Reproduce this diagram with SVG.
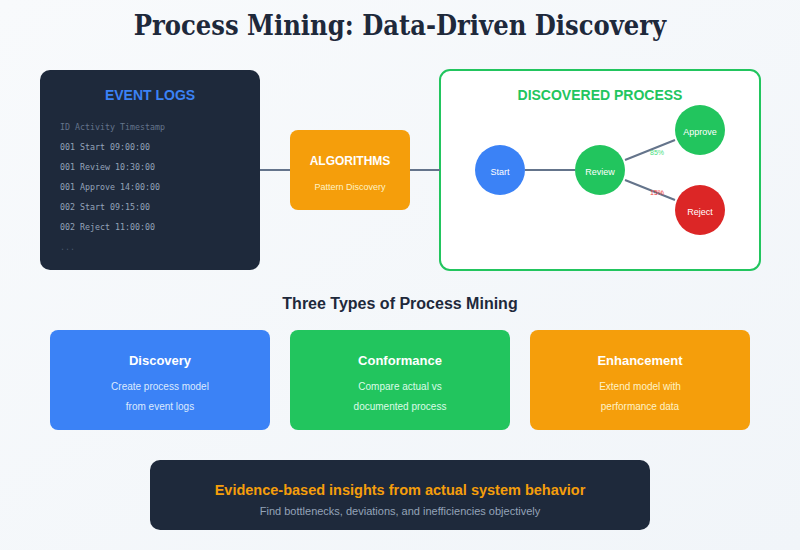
<svg xmlns="http://www.w3.org/2000/svg" width="800" height="550" viewBox="0 0 800 550">
<defs>
<linearGradient id="bg" x1="0" y1="0" x2="1" y2="1">
<stop offset="0" stop-color="#f8fafc"/>
<stop offset="1" stop-color="#f1f5f9"/>
</linearGradient>
<style>
.sans{font-family:"Liberation Sans",Arial,sans-serif}
.mono{font-family:"DejaVu Sans Mono","Liberation Mono",monospace;font-size:8.3px}
.conn{stroke:#64748b;stroke-width:2;fill:none}
.ctitle{font-family:"Liberation Sans",Arial,sans-serif;font-size:13px;font-weight:bold;fill:#ffffff;text-anchor:middle}
.cdesc{font-family:"Liberation Sans",Arial,sans-serif;font-size:10px;text-anchor:middle}
.ntext{font-family:"Liberation Sans",Arial,sans-serif;font-size:9px;fill:#ffffff;text-anchor:middle}
</style>
</defs>
<rect width="800" height="550" fill="url(#bg)"/>
<text x="400" y="35" text-anchor="middle" font-family="DejaVu Serif,serif" font-stretch="condensed" font-weight="bold" font-size="27" fill="#1e293b">Process Mining: Data-Driven Discovery</text>

<g id="event-logs">
<rect x="40" y="70" width="220" height="200" rx="10" fill="#1e293b"/>
<text x="150" y="100" text-anchor="middle" class="sans" font-size="14" font-weight="bold" fill="#3b82f6">EVENT LOGS</text>
<text x="60" y="130" class="mono" fill="#64748b">ID Activity Timestamp</text>
<text x="60" y="150" class="mono" fill="#94a3b8">001 Start 09:00:00</text>
<text x="60" y="170" class="mono" fill="#94a3b8">001 Review 10:30:00</text>
<text x="60" y="190" class="mono" fill="#94a3b8">001 Approve 14:00:00</text>
<text x="60" y="210" class="mono" fill="#94a3b8">002 Start 09:15:00</text>
<text x="60" y="230" class="mono" fill="#94a3b8">002 Reject 11:00:00</text>
<text x="60" y="250" class="mono" fill="#475569">...</text>
</g>

<g id="algorithms">
<rect x="290" y="130" width="120" height="80" rx="8" fill="#f59e0b"/>
<text x="350" y="165" text-anchor="middle" class="sans" font-size="12" font-weight="bold" fill="#ffffff">ALGORITHMS</text>
<text x="350" y="190" text-anchor="middle" class="sans" font-size="9" fill="#fef3c7">Pattern Discovery</text>
</g>

<g id="discovered-process">
<rect x="440" y="70" width="320" height="200" rx="10" fill="#ffffff" stroke="#22c55e" stroke-width="2"/>
<text x="600" y="100" text-anchor="middle" class="sans" font-size="14" font-weight="bold" fill="#22c55e">DISCOVERED PROCESS</text>
</g>

<g id="connectors">
<line class="conn" x1="260" y1="170" x2="290" y2="170"/>
<line class="conn" x1="410" y1="170" x2="440" y2="170"/>
<line class="conn" x1="525" y1="170" x2="575" y2="170"/>
<line class="conn" x1="625" y1="160" x2="675" y2="140"/>
<line class="conn" x1="625" y1="180" x2="675" y2="200"/>
<text x="657" y="155" text-anchor="middle" class="sans" font-size="7" fill="#4ade80">85%</text>
<text x="657" y="195" text-anchor="middle" class="sans" font-size="7" fill="#ef4444">15%</text>
</g>

<g id="node-start">
<circle cx="500" cy="170" r="25" fill="#3b82f6"/>
<text x="500" y="175" class="ntext">Start</text>
</g>
<g id="node-review">
<circle cx="600" cy="170" r="25" fill="#22c55e"/>
<text x="600" y="175" class="ntext">Review</text>
</g>
<g id="node-approve">
<circle cx="700" cy="130" r="25" fill="#22c55e"/>
<text x="700" y="135" class="ntext">Approve</text>
</g>
<g id="node-reject">
<circle cx="700" cy="210" r="25" fill="#dc2626"/>
<text x="700" y="215" class="ntext">Reject</text>
</g>

<text x="400" y="309" text-anchor="middle" class="sans" font-size="16" font-weight="bold" fill="#1e293b">Three Types of Process Mining</text>

<g id="card-discovery">
<rect x="50" y="330" width="220" height="100" rx="8" fill="#3b82f6"/>
<text x="160" y="365" class="ctitle">Discovery</text>
<text x="160" y="390" class="cdesc" fill="#dbeafe">Create process model</text>
<text x="160" y="410" class="cdesc" fill="#dbeafe">from event logs</text>
</g>
<g id="card-conformance">
<rect x="290" y="330" width="220" height="100" rx="8" fill="#22c55e"/>
<text x="400" y="365" class="ctitle">Conformance</text>
<text x="400" y="390" class="cdesc" fill="#dcfce7">Compare actual vs</text>
<text x="400" y="410" class="cdesc" fill="#dcfce7">documented process</text>
</g>
<g id="card-enhancement">
<rect x="530" y="330" width="220" height="100" rx="8" fill="#f59e0b"/>
<text x="640" y="365" class="ctitle">Enhancement</text>
<text x="640" y="390" class="cdesc" fill="#fef3c7">Extend model with</text>
<text x="640" y="410" class="cdesc" fill="#fef3c7">performance data</text>
</g>

<g id="insight">
<rect x="150" y="460" width="500" height="70" rx="10" fill="#1e293b"/>
<text x="400" y="495" text-anchor="middle" class="sans" font-size="14.5" font-weight="bold" fill="#f59e0b">Evidence-based insights from actual system behavior</text>
<text x="400" y="515" text-anchor="middle" class="sans" font-size="11" fill="#94a3b8">Find bottlenecks, deviations, and inefficiencies objectively</text>
</g>
</svg>
